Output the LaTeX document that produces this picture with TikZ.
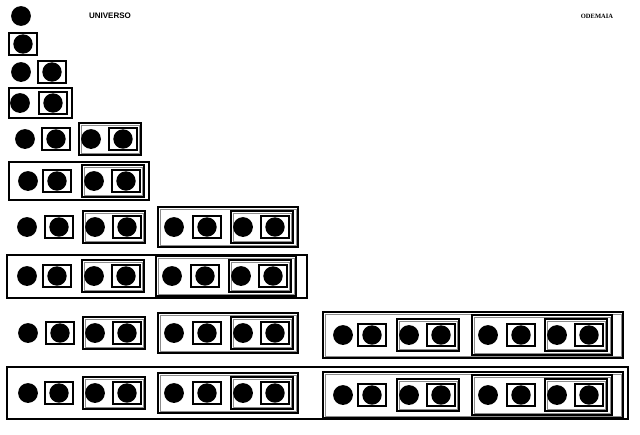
\documentclass[tikz,border=0pt]{standalone}
\usepackage{fontspec}
\newfontfamily\lsans{Liberation Sans}
\newfontfamily\lserif{Liberation Serif}
\tikzset{
  bx/.style={draw=black, line width=1.4pt},
  gx/.style={draw=black!45, line width=0.8pt},
  dot/.style={fill=black},
}
% element 0: filled circle, left edge at origin of scope
\newcommand\eZ[2]{\begin{scope}[shift={(#1,#2)}]\fill[dot] (10,0) circle (9.9pt);\end{scope}}
% element 1: box around circle (width 28)
\newcommand\eA[2]{\begin{scope}[shift={(#1,#2)}]
  \draw[bx] (0,-11) rectangle (28,11);
  \fill[dot] (14,0) circle (9.7pt);\end{scope}}
% element 2: width 62
\newcommand\eB[2]{\begin{scope}[shift={(#1,#2)}]
  \draw[bx] (0,-16) rectangle (62,16);
  \draw[gx] (2,-14) rectangle (60,14);
  \eZ{2}{0}\eA{30}{0}\end{scope}}
% element 3: width 140
\newcommand\eC[2]{\begin{scope}[shift={(#1,#2)}]
  \draw[bx] (0,-20) rectangle (140,20);
  \draw[gx] (2,-18) rectangle (138,18);
  \eZ{6}{0}\eA{35}{0}\eB{73}{0}\end{scope}}
% element 4: width 300
\newcommand\eD[2]{\begin{scope}[shift={(#1,#2)}]
  \draw[bx] (0,-23) rectangle (300,23);
  \draw[gx] (2,-21) rectangle (298,21);
  \eZ{10}{0}\eA{35}{0}\eB{74}{0}\eC{149}{0}\end{scope}}
\begin{document}
\begin{tikzpicture}[x=1pt,y=-1pt]
\useasboundingbox (0,0) rectangle (640,434);
\node (t1) at (110,16) {\lsans\bfseries\fontsize{8}{9}\selectfont UNIVERSO};
\node (t2) at (597,16) {\lserif\bfseries\fontsize{6.5}{7}\selectfont ODEMAIA};
% row 1
\eZ{11}{16}
% row 2
\eA{9}{44}
% row 3
\eZ{11}{72}\eA{38}{72}
% row 4
\begin{scope}[shift={(9,103)}]
  \draw[bx] (0,-15) rectangle (63,15);
  \eZ{1}{0}\eA{30}{0}
\end{scope}
% row 5
\eZ{15}{139}\eA{42}{139}\eB{79}{139}
% row 6
\begin{scope}[shift={(9,181)}]
  \draw[bx] (0,-19) rectangle (140,19);
  \eZ{9}{0}\eA{34}{0}\eB{73}{0}
\end{scope}
% row 7
\eZ{17}{227}\eA{45}{227}\eB{83}{227}\eC{158}{227}
% row 8
\begin{scope}[shift={(7,276)}]
  \draw[bx] (0,-21) rectangle (300,22);
  \eZ{10}{0}\eA{36}{0}\eB{75}{0}\eC{149}{0}
\end{scope}
% row 9
\eZ{18}{333}\eA{46}{333}\eB{83}{333}\eC{158}{333}\eD{323}{335}
% row 10
\begin{scope}[shift={(7,393)}]
  \draw[bx] (0,-26) rectangle (621,26);
  \eZ{11}{0}\eA{38}{0}\eB{76}{0}\eC{151}{0}\eD{316}{2}
\end{scope}
\end{tikzpicture}
\end{document}
